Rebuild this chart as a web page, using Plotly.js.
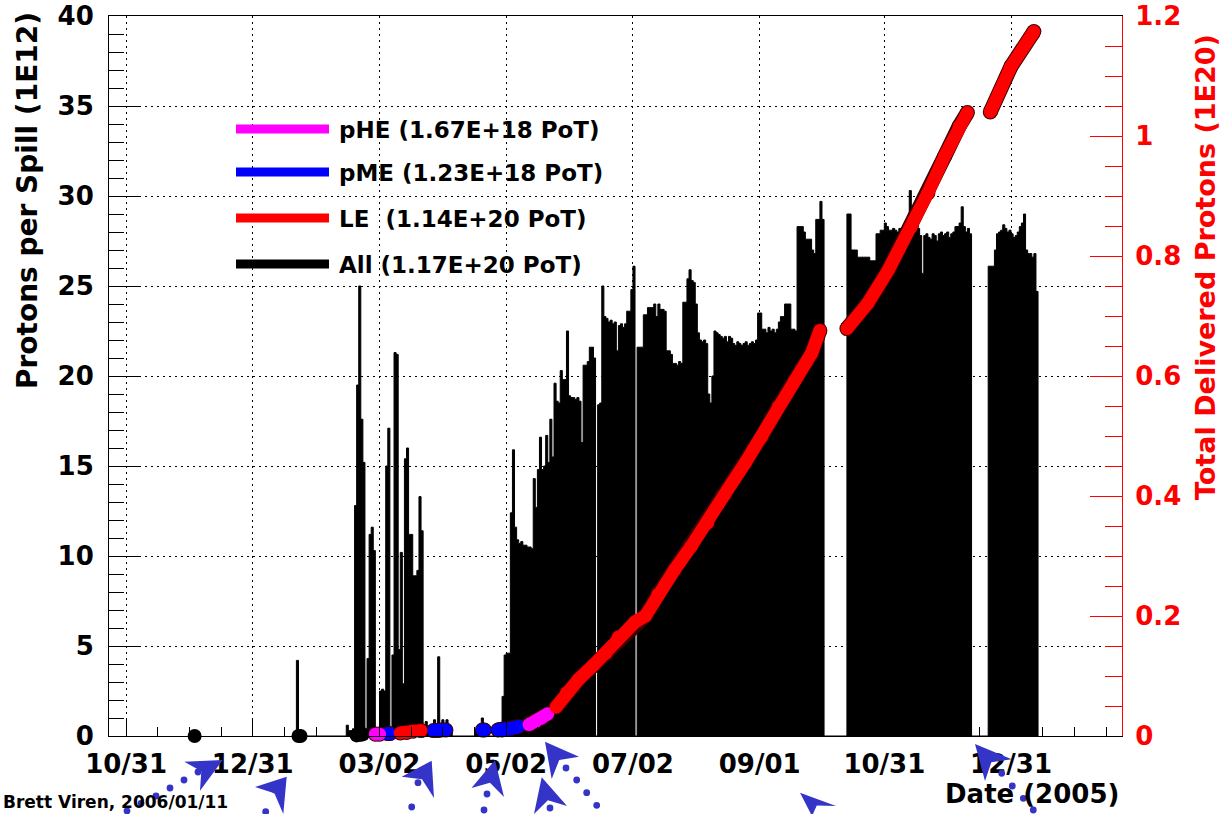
<!DOCTYPE html>
<html>
<head>
<meta charset="utf-8">
<script src="https://cdn.plot.ly/plotly-3.0.1.min.js"></script>
<style>
  html, body { margin: 0; padding: 0; background: #fff; }
  #chart { width: 1224px; height: 814px; }
</style>
</head>
<body>
<div id="chart"></div>
<script>
// ---- Protons per spill (1E12), one value per day, grouped by running period ----
const jan2005Start = '2005-01-21';
const jan2005Spill = [4.2];

const febMarStart = '2005-02-14';
const febMarSpill = [
  0.6, 0.3, 0.3, 0.4, 12.8, 19.5, 25.0, 17.6, 15.2, 0,
  4.3, 11.2, 11.6, 10.3, 0, 0.3, 2.5, 2.6, 2.5, 15.0,
  17.1, 0.3, 4.5, 21.3, 21.2, 4.8, 10.2, 2.9, 15.4, 16.0,
  11.2, 11.2, 8.9, 8.9, 9.2, 13.3, 11.4, 0.4, 0.8, 0.4,
  0.3, 0.4, 0.9, 0.4, 4.4, 0.5, 0.9, 0.4, 0.9, 0.4,
  0.3
];

const aprStart = '2005-04-17';
const aprSpill = [0.3, 0.4, 0.5, 1.0, 0.4, 0.3];

const summerStart = '2005-04-26';
const summerSpill = [
  0.3, 0.7, 0.3, 0.4, 2.2, 4.5, 4.6, 4.6, 12.4, 15.9,
  11.6, 10.9, 10.7, 10.8, 10.6, 10.6, 10.5, 10.5, 10.4, 14.3,
  12.7, 14.8, 16.6, 14.8, 15.0, 16.7, 15.2, 17.6, 15.5, 19.6,
  18.6, 18.5, 20.3, 19.8, 19.8, 22.5, 18.9, 18.8, 18.8, 18.7,
  18.8, 18.6, 16.3, 20.6, 20.6, 20.8, 21.6, 21.6, 21.0, 0,
  18.4, 18.5, 25.0, 23.3, 23.2, 23.0, 23.1, 22.9, 23.0, 21.4,
  22.8, 22.9, 22.7, 22.9, 23.6, 23.6, 24.8, 26.1, 0, 21.6,
  21.6, 21.6, 23.4, 23.4, 23.8, 23.8, 23.8, 24.0, 23.3, 24.0,
  23.7, 23.7, 23.6, 21.4, 21.4, 21.2, 20.7, 20.7, 20.6, 20.8,
  20.7, 24.1, 24.1, 25.4, 25.9, 25.3, 25.2, 24.0, 22.4, 22.0,
  21.9, 22.0, 21.8, 19.0, 18.5, 20.0, 22.5, 22.4, 22.3, 22.2,
  22.1, 22.2, 21.9, 22.2, 22.1, 21.8, 21.7, 21.9, 21.8, 21.7,
  21.8, 21.9, 21.7, 21.8, 21.9, 21.8, 22.0, 23.5, 23.5, 22.6,
  22.6, 22.4, 22.7, 22.5, 22.6, 22.4, 22.6, 23.0, 23.3, 23.3,
  24.0, 24.0, 24.0, 22.6, 22.6, 22.5, 28.3, 28.3, 28.3, 28.0,
  27.6, 27.6, 27.6, 27.0, 26.8, 28.7, 28.7, 29.7, 28.7
];

const autumnStart = '2005-10-13';
const autumnSpill = [
  29.0, 29.0, 27.0, 27.0, 27.0, 26.6, 26.6, 26.6, 26.6, 26.6,
  26.6, 26.4, 26.4, 26.4, 27.9, 27.9, 28.1, 28.1, 28.5, 28.3,
  28.1, 28.1, 28.2, 28.1, 28.0, 28.2, 28.1, 28.0, 28.3, 28.4,
  30.3, 28.6, 28.4, 28.4, 28.2, 27.8, 25.7, 27.8, 27.9, 27.7,
  27.6, 27.9, 27.8, 27.5, 27.9, 28.0, 27.8, 27.9, 28.0, 27.7,
  27.9, 28.0, 28.3, 28.3, 28.5, 29.4, 28.3, 28.0, 28.2, 27.9
];

const winterStart = '2005-12-20';
const winterSpill = [
  26.1, 26.1, 26.1, 27.0, 27.9, 28.0, 28.1, 28.4, 28.2, 28.0,
  28.1, 27.9, 27.7, 27.8, 28.0, 28.3, 28.5, 29.0, 27.0, 26.8,
  26.8, 26.6, 26.8, 24.7
];

// ---- Total delivered protons (1E20), coloured by beam configuration ----
const allDates  = ['2004-12-03', null, '2005-01-22', '2005-01-23', null,
                   '2005-02-19', '2005-02-20', '2005-02-21', '2005-02-22'];
const allTotals = [0.000, null, 0.000, 0.000, null, 0.001, 0.002, 0.002, 0.003];

const pmeDates  = ['2005-03-06', '2005-03-07', null,
                   '2005-03-28', '2005-03-30', '2005-04-01', '2005-04-03', null,
                   '2005-04-20 12:00', '2005-04-21 12:00', null,
                   '2005-04-28', '2005-04-30', '2005-05-02', '2005-05-04', '2005-05-06', '2005-05-08'];
const pmeTotals = [0.004, 0.004, null,
                   0.009, 0.009, 0.010, 0.010, null,
                   0.010, 0.010, null,
                   0.010, 0.010, 0.011, 0.012, 0.014, 0.016];

const pheDates  = ['2005-02-28', '2005-03-02', null,
                   '2005-05-13', '2005-05-16', '2005-05-19', '2005-05-22'];
const pheTotals = [0.003, 0.003, null,
                   0.019, 0.024, 0.030, 0.037];

const leDates = [
  '2005-03-12', '2005-03-15', '2005-03-18', '2005-03-22', null,
  '2005-05-26', '2005-05-31', '2005-06-06', '2005-06-13', '2005-06-19', '2005-06-25',
  '2005-07-03', '2005-07-08', '2005-07-14', '2005-07-22', '2005-07-30', '2005-08-07',
  '2005-08-15', '2005-08-25', '2005-09-02', '2005-09-10', '2005-09-18', '2005-09-26',
  '2005-09-30', null,
  '2005-10-13', '2005-10-23', '2005-11-02', '2005-11-13', '2005-11-21', '2005-11-29',
  '2005-12-06', '2005-12-10', null,
  '2005-12-21', '2005-12-31', '2006-01-11'
];
const leTotals = [
  0.005, 0.006, 0.008, 0.009, null,
  0.048, 0.072, 0.095, 0.118, 0.138, 0.165,
  0.190, 0.200, 0.236, 0.277, 0.316, 0.355,
  0.402, 0.455, 0.499, 0.549, 0.593, 0.638,
  0.676, null,
  0.679, 0.721, 0.777, 0.849, 0.905, 0.966,
  1.016, 1.039, null,
  1.040, 1.116, 1.174
];

const legendLabels = ['pHE (1.67E+18 PoT)', 'pME (1.23E+18 PoT)',
                      'LE\u00a0\u00a0(1.14E+20 PoT)', 'All (1.17E+20 PoT)'];
const legendColors = ['#ff00ff', '#0000ff', '#ff0000', '#000000'];

const dateTicks = ['2004-10-31', '2004-12-31', '2005-03-02', '2005-05-02',
                   '2005-07-02', '2005-09-01', '2005-10-31', '2005-12-31'];

// ---------------------------------------------------------------------------
const DAY = 86400000;
function shiftDay(start, n) {
  return new Date(Date.parse(start + 'T00:00:00Z') + n * DAY).toISOString().slice(0, 10);
}
// step-filled histogram: each run rises from zero at its first day and drops back after the last
function addRun(xs, ys, start, vals) {
  xs.push(shiftDay(start, 0)); ys.push(0);
  vals.forEach((v, i) => { xs.push(shiftDay(start, i)); ys.push(v); });
  xs.push(shiftDay(start, vals.length)); ys.push(0);
}
const histX = [], histY = [];
addRun(histX, histY, jan2005Start, jan2005Spill);
addRun(histX, histY, febMarStart, febMarSpill);
addRun(histX, histY, aprStart, aprSpill);
addRun(histX, histY, summerStart, summerSpill);
addRun(histX, histY, autumnStart, autumnSpill);
addRun(histX, histY, winterStart, winterSpill);

// minor date ticks: four subdivisions of each labelled interval
const minorTicks = [];
for (let i = 0; i < dateTicks.length; i++) {
  const a = Date.parse(dateTicks[i] + 'T00:00:00Z');
  const b = i + 1 < dateTicks.length ? Date.parse(dateTicks[i + 1] + 'T00:00:00Z') : a + 61 * DAY;
  for (let k = 1; k < 4; k++) minorTicks.push(new Date(a + (b - a) * k / 4).toISOString().slice(0, 19).replace('T', ' '));
}

function totalTrace(xs, ys, color, size) {
  return {
    type: 'scatter', x: xs, y: ys, yaxis: 'y2', mode: 'lines+markers',
    line: { color: color, width: size }, marker: { color: color, size: size, line: { width: 0 } },
    cliponaxis: false, hoverinfo: 'skip', showlegend: false
  };
}

const traces = [
  {
    type: 'scatter', x: histX, y: histY, mode: 'lines',
    line: { shape: 'hv', color: '#000', width: 1 },
    fill: 'tozeroy', fillcolor: '#000', hoverinfo: 'skip', showlegend: false
  },
  totalTrace(pmeDates, pmeTotals, '#3a0000', 15),
  totalTrace(pheDates, pheTotals, '#3a0000', 15),
  totalTrace(leDates, leTotals, '#3a0000', 15),
  totalTrace(allDates, allTotals, '#000000', 14),
  totalTrace(pmeDates, pmeTotals, legendColors[1], 13),
  totalTrace(pheDates, pheTotals, legendColors[0], 13),
  totalTrace(leDates, leTotals, legendColors[2], 13)
];

// frame in pixels
const FL = 109, FR = 1122, FT = 16, FB = 736;
const px = X => (X - FL) / (FR - FL);
const py = Y => (FB - Y) / (FB - FT);

const shapes = [];
const annotations = [];

// legend
const legendY = [129, 172, 218, 264];
legendLabels.forEach((lab, i) => {
  shapes.push({ type: 'line', xref: 'paper', yref: 'paper',
    x0: px(236), x1: px(329), y0: py(legendY[i]), y1: py(legendY[i]),
    line: { color: legendColors[i], width: 9 } });
  annotations.push({ xref: 'paper', yref: 'paper', x: px(337), y: py(legendY[i] + 1),
    xanchor: 'left', yanchor: 'middle', showarrow: false, text: lab,
    font: { family: 'DejaVu Sans', weight: 700, size: 23, color: '#000' } });
});

// dotted pointer arrows below the date axis
const pointers = [
  { tip: [222.7, 760], w1: [184.3, 761.7], w2: [200, 790.7],
    dots: [[198, 772], [184, 780], [170, 788], [156, 796], [141, 803.5], [127, 811]] },
  { tip: [286.7, 776.7], w1: [255, 787], w2: [283.3, 814], dots: [[275, 790], [265.7, 811.7]] },
  { tip: [431.7, 760.7], w1: [401.7, 776.7], w2: [434, 798], dots: [[418, 782.7], [411.7, 807]] },
  { tip: [495, 760], w1: [471.5, 788], w2: [504, 797], dots: [[487, 794], [484, 810]] },
  { tip: [545, 741.7], w1: [579, 756.7], w2: [551.7, 779],
    dots: [[566, 768], [576.7, 780], [586.7, 792.7], [596.7, 805.3]] },
  { tip: [541.7, 777.3], w1: [534, 814], w2: [567, 806], dots: [[550, 808]] },
  { tip: [800, 792.7], w1: [836, 806], w2: [812, 816], dots: [] },
  { tip: [975, 744], w1: [1011.7, 759.3], w2: [985, 781],
    dots: [[1001.7, 773.3], [1012.3, 786], [1023.3, 798.3], [1033.3, 810]] }
];
const arrowBlue = '#3434c8';
pointers.forEach(p => {
  const mx = (p.w1[0] + p.w2[0]) / 2, my = (p.w1[1] + p.w2[1]) / 2;
  const nx = p.tip[0] + 0.7 * (mx - p.tip[0]), ny = p.tip[1] + 0.7 * (my - p.tip[1]);
  const pt = (x, y) => px(x).toFixed(5) + ',' + py(y).toFixed(5);
  shapes.push({ type: 'path', xref: 'paper', yref: 'paper',
    path: 'M' + pt(p.tip[0], p.tip[1]) + 'L' + pt(p.w1[0], p.w1[1]) + 'L' + pt(nx, ny) +
          'L' + pt(p.w2[0], p.w2[1]) + 'Z',
    fillcolor: arrowBlue, line: { width: 0 } });
  p.dots.forEach(d => {
    const r = 3.4;
    shapes.push({ type: 'circle', xref: 'paper', yref: 'paper',
      x0: px(d[0] - r), x1: px(d[0] + r), y0: py(d[1] + r), y1: py(d[1] - r),
      fillcolor: arrowBlue, line: { width: 0 } });
  });
});

// axis titles and captions
annotations.push(
  { xref: 'paper', yref: 'paper', x: px(28), y: py(201), xanchor: 'center', yanchor: 'middle',
    textangle: -90, showarrow: false, text: 'Protons per Spill (1E12)',
    font: { family: 'DejaVu Sans', weight: 700, size: 28, color: '#000' } },
  { xref: 'paper', yref: 'paper', x: px(1205), y: py(267), xanchor: 'center', yanchor: 'middle',
    textangle: -90, showarrow: false, text: 'Total Delivered Protons (1E20)',
    font: { family: 'DejaVu Sans', weight: 700, size: 27, color: '#ff0000' } },
  { xref: 'paper', yref: 'paper', x: px(1121), y: py(794), xanchor: 'right', yanchor: 'middle',
    showarrow: false, text: 'Date (2005)',
    font: { family: 'DejaVu Sans', weight: 700, size: 26, color: '#000' } },
  { xref: 'paper', yref: 'paper', x: px(1), y: py(802), xanchor: 'left', yanchor: 'middle',
    showarrow: false, text: 'Brett Viren, 2006/01/11',
    font: { family: 'DejaVu Sans', weight: 700, size: 17, color: '#000' } }
);

const tickFont = { family: 'DejaVu Sans', weight: 700, size: 26, color: '#000' };
const layout = {
  width: 1224, height: 814,
  margin: { l: FL, r: 1224 - FR, t: FT, b: 814 - FB, pad: 0 },
  paper_bgcolor: '#ffffff', plot_bgcolor: '#ffffff',
  showlegend: false,
  font: { family: 'DejaVu Sans', weight: 700, size: 26, color: '#000' },
  xaxis: {
    type: 'date', range: ['2004-10-22 19:00', '2006-02-22 10:00'],
    tickmode: 'array', tickvals: dateTicks, tickformat: '%m/%d',
    ticks: 'inside', ticklen: 17, tickwidth: 1, tickcolor: '#000',
    minor: { tickmode: 'array', tickvals: minorTicks, ticks: 'inside', ticklen: 9,
             tickwidth: 1, tickcolor: '#000', showgrid: false },
    showgrid: true, gridcolor: '#000', gridwidth: 1, griddash: '2px,4px',
    showline: true, linecolor: '#000', linewidth: 1, mirror: true, zeroline: false,
    tickfont: tickFont, ticklabelstandoff: 5, fixedrange: true
  },
  yaxis: {
    range: [0, 40], tickmode: 'linear', tick0: 0, dtick: 5,
    ticks: 'inside', ticklen: 30, tickwidth: 1, tickcolor: '#000',
    minor: { tickmode: 'linear', tick0: 0, dtick: 1, ticks: 'inside', ticklen: 15,
             tickwidth: 1, tickcolor: '#000', showgrid: false },
    showgrid: true, gridcolor: '#000', gridwidth: 1, griddash: '2px,4px',
    showline: true, linecolor: '#000', linewidth: 1, zeroline: false,
    tickfont: tickFont, ticklabelstandoff: 9, fixedrange: true
  },
  yaxis2: {
    overlaying: 'y', side: 'right', range: [0, 1.2],
    tickmode: 'linear', tick0: 0, dtick: 0.2,
    ticks: 'inside', ticklen: 32, tickwidth: 1, tickcolor: '#ff0000',
    minor: { tickmode: 'linear', tick0: 0, dtick: 0.05, ticks: 'inside', ticklen: 17,
             tickwidth: 1, tickcolor: '#ff0000', showgrid: false },
    showgrid: false, showline: true, linecolor: '#ff0000', linewidth: 1, zeroline: false,
    tickfont: Object.assign({}, tickFont, { color: '#ff0000' }), ticklabelstandoff: 7,
    fixedrange: true
  },
  shapes: shapes,
  annotations: annotations
};

Plotly.newPlot('chart', traces, layout, { displayModeBar: false, staticPlot: true });
</script>
</body>
</html>
